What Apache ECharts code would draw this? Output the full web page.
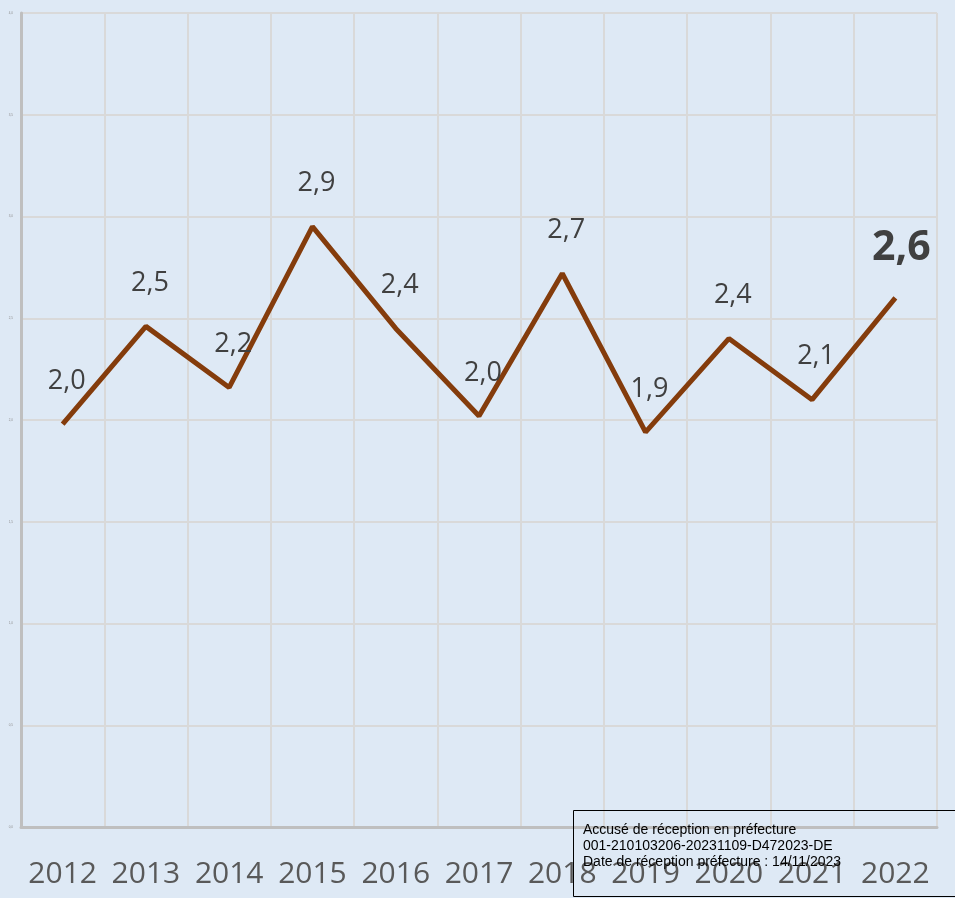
<!DOCTYPE html>
<html>
<head>
<meta charset="utf-8">
<script src="https://cdn.jsdelivr.net/npm/echarts@6/dist/echarts.min.js"></script>
<style>
  html, body { margin: 0; padding: 0; background: #dee9f5; }
  #chart { width: 955px; height: 898px; }
</style>
</head>
<body>
<div id="chart"></div>
<script>
// années
const years = ['2012', '2013', '2014', '2015', '2016', '2017', '2018', '2019', '2020', '2021', '2022']
// valeurs
const values = [1.98, 2.46, 2.16, 2.95, 2.45, 2.02, 2.72, 1.94, 2.40, 2.10, 2.60]
// étiquettes affichées
const labels = ['2,0', '2,5', '2,2', '2,9', '2,4', '2,0', '2,7', '1,9', '2,4', '2,1', '2,6']

const chart = echarts.init(document.getElementById('chart'))

const last = values.length - 1

const option = {
  backgroundColor: '#dee9f5',
  animation: false,
  grid: {
    left: 21,
    right: 18,
    top: 13,
    bottom: 71
  },
  xAxis: {
    type: 'category',
    data: years,
    boundaryGap: true,
    axisLine: { lineStyle: { color: '#bfbfbf', width: 3 } },
    axisTick: { show: false },
    axisLabel: {
      fontSize: 30,
      color: '#595959',
      fontFamily: 'Open Sans',
      margin: 32,
      interval: 0
    },
    splitLine: {
      show: true,
      interval: 0,
      lineStyle: { color: '#d9d9d9', width: 2 }
    }
  },
  yAxis: {
    type: 'value',
    min: 0,
    max: 4,
    interval: 0.5,
    axisLine: { show: true, lineStyle: { color: '#bfbfbf', width: 3 } },
    axisTick: { show: false },
    axisLabel: {
      fontSize: 3,
      color: '#8c8c8c',
      margin: 8,
      formatter: v => v.toFixed(1).replace('.', ',')
    },
    splitLine: { lineStyle: { color: '#d9d9d9', width: 2 } }
  },
  series: [
    {
      type: 'line',
      data: values.map((v, i) => ({
        value: v,
        label: i === last
          ? { fontSize: 41, fontWeight: 'bold', color: '#404040', padding: [0, 0, 0, 12] }
          : { padding: [0, 0, 0, 8] }
      })),
      showSymbol: true,
      symbol: 'circle',
      symbolSize: 1,
      itemStyle: { color: 'transparent' },
      lineStyle: { color: '#843c0c', width: 5 },
      label: {
        show: true,
        position: 'top',
        distance: 29,
        fontSize: 27,
        color: '#404040',
        fontFamily: 'Open Sans',
        formatter: p => labels[p.dataIndex]
      },
      labelLayout: { hideOverlap: false }
    }
  ],
  graphic: [
    {
      type: 'rect',
      left: 573,
      top: 810,
      shape: { width: 390, height: 86 },
      style: { fill: 'rgba(0,0,0,0)', stroke: '#000', lineWidth: 1 },
      z: 100
    },
    {
      type: 'text',
      left: 583,
      top: 822,
      style: {
        text: 'Accusé de réception en préfecture\n001-210103206-20231109-D472023-DE\nDate de réception préfecture : 14/11/2023',
        fontSize: 14,
        lineHeight: 16,
        fontFamily: 'Liberation Sans',
        fill: '#000'
      },
      z: 100
    }
  ]
}

chart.setOption(option)
</script>
</body>
</html>
